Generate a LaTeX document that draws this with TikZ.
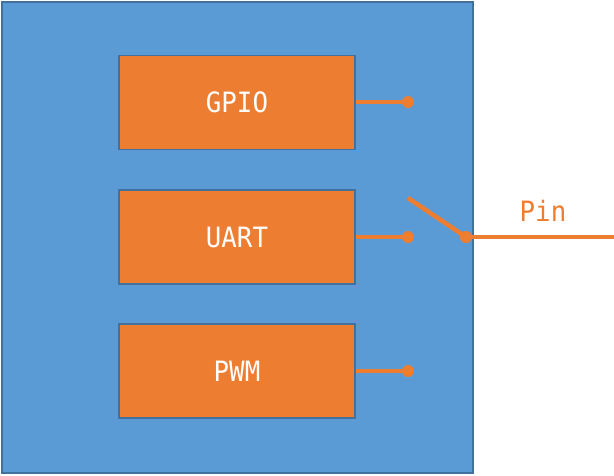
\documentclass[tikz,border=0pt]{standalone}
\usepackage{fontspec}
\newfontfamily\monofont[FakeStretch=0.92]{DejaVu Sans Mono}
\definecolor{bluefill}{HTML}{5B9BD5}
\definecolor{blueline}{HTML}{41719C}
\definecolor{orng}{HTML}{ED7D31}
\begin{document}
\begin{tikzpicture}[x=1pt,y=-1pt,
  block/.style={draw=blueline,line width=1.5pt,fill=orng,minimum width=236pt,minimum height=94pt,inner sep=0pt,text=white,font=\monofont\fontsize{28}{30}\selectfont},
  wire/.style={draw=orng,line width=4.5pt},
  dotc/.style={circle,fill=orng,inner sep=0pt,minimum size=12pt}]
\useasboundingbox (0,0) rectangle (614,475);
\node[draw=blueline,fill=bluefill,line width=2pt,minimum width=471pt,minimum height=471pt,inner sep=0pt,anchor=north west] (mcu) at (1,1) {};
\node[block] (gpio) at (237,102.5) {GPIO};
\node[block] (uart) at (237,237) {UART};
\node[block] (pwm) at (237,371) {PWM};
\node[dotc] (d1) at (408,102) {};
\node[dotc] (d2) at (408,237) {};
\node[dotc] (d3) at (408,371) {};
\node[dotc] (sw) at (466,237) {};
\coordinate (swtop) at (408,198);
\coordinate (pinend) at (614,237);
\draw[wire] (gpio.east |- d1) -- (d1.center);
\draw[wire] (uart.east |- d2) -- (d2.center);
\draw[wire] (pwm.east |- d3) -- (d3.center);
\draw[wire] (swtop) -- (sw.center);
\draw[wire] (sw.center) -- (pinend);
\node[text=orng,font=\monofont\fontsize{28}{30}\selectfont] (pin) at (543,211) {Pin};
\end{tikzpicture}
\end{document}
